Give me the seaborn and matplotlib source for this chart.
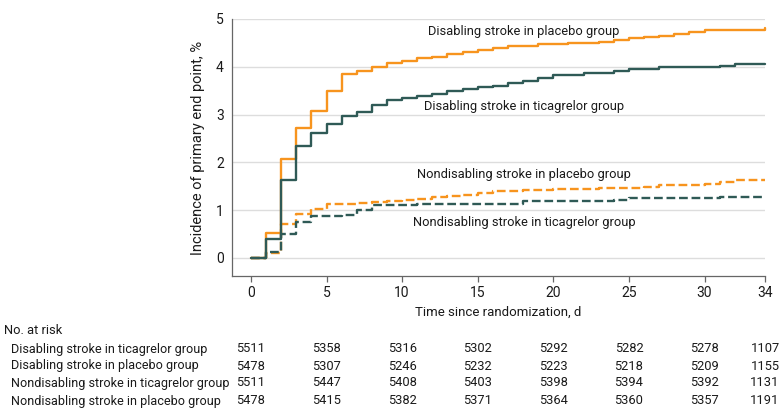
import pandas as pd
import matplotlib
matplotlib.use("Agg")
import matplotlib.pyplot as plt
import matplotlib.transforms as mtransforms
import seaborn as sns

# Step data (value holds from that day on)
days = list(range(0, 35))
disabling_placebo = [0, 0.53, 2.07, 2.71, 3.07, 3.49, 3.85, 3.91, 4.00, 4.07,
                     4.12, 4.18, 4.20, 4.26, 4.31, 4.36, 4.40, 4.43, 4.43, 4.47,
                     4.47, 4.50, 4.50, 4.52, 4.56, 4.60, 4.62, 4.65, 4.69, 4.72,
                     4.76, 4.76, 4.76, 4.76, 4.82]
disabling_ticagrelor = [0, 0.40, 1.62, 2.34, 2.62, 2.81, 2.96, 3.05, 3.19, 3.30,
                        3.34, 3.38, 3.42, 3.50, 3.54, 3.57, 3.60, 3.66, 3.71, 3.76,
                        3.82, 3.82, 3.87, 3.87, 3.92, 3.96, 3.96, 3.99, 3.99, 3.99,
                        3.99, 4.02, 4.05, 4.05, 4.05]
nondisabling_placebo = [0, 0.11, 0.70, 0.92, 1.02, 1.12, 1.13, 1.15, 1.17, 1.19,
                        1.21, 1.24, 1.27, 1.29, 1.31, 1.36, 1.39, 1.39, 1.41, 1.41,
                        1.44, 1.44, 1.44, 1.47, 1.47, 1.47, 1.49, 1.52, 1.52, 1.52,
                        1.54, 1.59, 1.62, 1.62, 1.62]
nondisabling_ticagrelor = [0, 0.13, 0.50, 0.76, 0.87, 0.88, 0.90, 1.00, 1.10, 1.10,
                           1.10, 1.13, 1.13, 1.13, 1.13, 1.13, 1.13, 1.13, 1.18, 1.18,
                           1.18, 1.18, 1.18, 1.20, 1.22, 1.25, 1.25, 1.26, 1.26, 1.26,
                           1.26, 1.28, 1.28, 1.28, 1.28]

# Number at risk table
risk_days = [0, 5, 10, 15, 20, 25, 30, 34]
risk_labels = ["Disabling stroke in ticagrelor group",
               "Disabling stroke in placebo group",
               "Nondisabling stroke in ticagrelor group",
               "Nondisabling stroke in placebo group"]
risk_counts = [[5511, 5358, 5316, 5302, 5292, 5282, 5278, 1107],
               [5478, 5307, 5246, 5232, 5223, 5218, 5209, 1155],
               [5511, 5447, 5408, 5403, 5398, 5394, 5392, 1131],
               [5478, 5415, 5382, 5371, 5364, 5360, 5357, 1191]]

orange = "#F7941E"
teal = "#2F5A56"
txt = "#1A1A1A"

sns.set_style("white")
plt.rcParams["font.family"] = ["Roboto", "DejaVu Sans"]

fig = plt.figure(figsize=(7.83, 4.2), dpi=100)
ax = fig.add_axes([232 / 783, 1 - 276 / 420, (765 - 232) / 783, (276 - 19) / 420])

# orange first so the teal curves sit on top where they overlap
series = [
    (disabling_placebo, orange, "-"),
    (nondisabling_placebo, orange, "--"),
    (disabling_ticagrelor, teal, "-"),
    (nondisabling_ticagrelor, teal, "--"),
]
for vals, col, ls in series:
    df = pd.DataFrame({"day": days, "pct": vals})
    kw = {"dashes": (3.0, 1.2)} if ls == "--" else {}
    sns.lineplot(data=df, x="day", y="pct", ax=ax, color=col, linestyle=ls,
                 drawstyle="steps-post", linewidth=1.7, clip_on=False, **kw)

ax.set_xlim(-1.25, 34)
ax.set_ylim(-0.38, 5)
ax.set_xticks([0, 5, 10, 15, 20, 25, 30, 34])
ax.set_yticks([0, 1, 2, 3, 4, 5])
ax.grid(axis="y", color="#DDDDDD", linewidth=1)
ax.set_axisbelow(True)
for s in ["top", "right"]:
    ax.spines[s].set_visible(False)
for s in ["left", "bottom"]:
    ax.spines[s].set_color("#666666")
    ax.spines[s].set_linewidth(0.9)
ax.tick_params(axis="both", direction="out", length=4, width=0.9, color="#666666",
               labelsize=10, labelcolor=txt, pad=3, left=True, bottom=True)
ax.tick_params(axis="y", length=0, pad=6)
ax.set_xlabel("Time since randomization, d", fontsize=9.5, color=txt, labelpad=4)
ax.set_ylabel("Incidence of primary end point, %", fontsize=10.5, color=txt, labelpad=8)

lab_kw = dict(ha="center", va="center", fontsize=9.3, color=txt)
ax.text(18.06, 4.73, "Disabling stroke in placebo group", **lab_kw)
ax.text(18.06, 3.16, "Disabling stroke in ticagrelor group", **lab_kw)
ax.text(18.06, 1.74, "Nondisabling stroke in placebo group", **lab_kw)
ax.text(18.06, 0.73, "Nondisabling stroke in ticagrelor group", **lab_kw)

# at-risk table below the axes
fig.text(4 / 783, 1 - 331 / 420, "No. at risk", fontsize=9.3, color=txt, va="center")
row_y = [349, 366, 383, 401]
trans = mtransforms.blended_transform_factory(ax.transData, fig.transFigure)
for lbl, counts, yy in zip(risk_labels, risk_counts, row_y):
    fig.text(11 / 783, 1 - yy / 420, lbl, fontsize=9.1, color=txt, va="center")
    for d, c in zip(risk_days, counts):
        ax.text(d, 1 - yy / 420, str(c), transform=trans, ha="center", va="center",
                fontsize=9.3, color=txt, clip_on=False)

fig.savefig("out.png", dpi=100)
